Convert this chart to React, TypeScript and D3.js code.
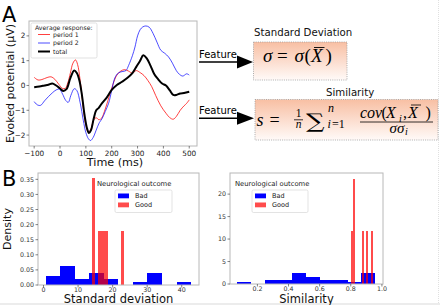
import React from "react";
import * as d3 from "d3";

// ---------- Panel A data ----------
const period1T = [-100, -85, -70, -50, -35, -20, -5, 10, 20, 30, 40, 50, 60, 68, 78, 90, 100, 110, 120, 130, 140, 150, 160, 175, 190, 205, 220, 235, 250, 265, 280, 295, 310, 325, 340, 355, 370, 390, 410, 425, 438, 450, 465, 480, 490, 500];
const period1V = [0.33, 0.22, 0.24, 0.32, 0.35, 0.25, 0.05, -0.12, -0.12, 0.1, 0.5, 0.9, 1.03, 0.85, 0.2, -0.9, -1.6, -1.88, -1.75, -1.4, -1.3, -1.38, -1.33, -0.95, -0.45, 0.05, 0.42, 0.58, 0.64, 0.58, 0.5, 0.6, 0.52, 0.4, 0.2, -0.05, -0.4, -0.82, -1.12, -1.3, -1.36, -1.25, -1.0, -0.82, -0.72, -0.58];

const period2T = [-100, -88, -75, -60, -45, -30, -15, -2, 10, 22, 32, 42, 55, 65, 78, 90, 100, 110, 118, 128, 140, 152, 162, 175, 188, 200, 212, 225, 240, 255, 265, 280, 290, 300, 310, 320, 332, 345, 360, 375, 390, 405, 420, 435, 450, 462, 475, 490, 500];
const period2V = [-0.65, -0.78, -0.8, -0.62, -0.45, -0.3, -0.18, -0.15, -0.35, -0.6, -0.68, -0.4, -0.13, -0.2, -0.7, -1.4, -1.9, -2.15, -2.22, -2.1, -1.8, -1.5, -1.35, -1.05, -0.72, -0.2, 0.3, 0.5, 0.56, 0.6, 0.8, 1.2, 1.55, 2.0, 2.25, 2.36, 2.4, 2.35, 2.1, 1.75, 1.42, 1.3, 1.15, 0.9, 0.6, 0.45, 0.38, 0.47, 0.42];

const totalT = [-100, -80, -60, -45, -30, -15, 0, 12, 25, 40, 55, 65, 75, 85, 95, 105, 112, 120, 130, 140, 150, 162, 180, 200, 220, 240, 260, 280, 295, 310, 322, 335, 350, 365, 380, 395, 410, 425, 438, 450, 465, 480, 500];
const totalV = [-0.07, -0.04, 0.0, 0.03, 0.08, 0.0, -0.12, -0.22, -0.15, 0.3, 0.6, 0.5, 0.2, -0.4, -1.2, -1.75, -1.92, -1.8, -1.35, -1.0, -0.9, -0.72, -0.5, -0.18, 0.02, 0.15, 0.3, 0.5, 0.75, 1.0, 1.22, 1.1, 0.8, 0.45, 0.25, 0.08, 0.0, -0.2, -0.38, -0.38, -0.32, -0.3, -0.25];

const timeTicks = [-100, 0, 100, 200, 300, 400, 500];
const potentialTicks = [-2, -1, 0, 1, 2];

// ---------- Panel B data (histogram counts) ----------
const sdBadStart = 0.6;
const sdBadWidth = 4.21;
const sdBadCounts = [3, 6, 2, 4, 2, 0, 1, 4, 0, 1];
const sdGoodStart = 13.9;
const sdGoodWidth = 0.94;
const sdGoodCounts = [2, 0, 1, 1, 1, 0, 0, 0, 0, 1];
const sdTicksX = [0, 10, 20, 30, 40];
const sdTicksY = [0, 0.05, 0.1, 0.15, 0.2, 0.25, 0.3, 0.35];

const simBadStart = 0.069;
const simBadWidth = 0.0888;
const simBadCounts = [1, 0, 2, 2, 5, 3, 2, 2, 1, 5];
const simGoodStart = 0.8;
const simGoodWidth = 0.0142;
const simGoodCounts = [1, 2, 0, 0, 0, 1, 0, 1, 0, 1];
const simTicksX = [0.2, 0.4, 0.6, 0.8, 1.0];
const simTicksY = [0, 5, 10, 15, 20];

const SANS = "DejaVu Sans, sans-serif";
const SERIF = "Liberation Serif, DejaVu Serif, serif";
const FRAME = "#b8b8b8";
const TICKC = "#333";

function bins(start: number, width: number, counts: number[]) {
  const n = d3.sum(counts);
  return counts.map((c, i) => ({ x0: start + i * width, x1: start + (i + 1) * width, d: c / (n * width) }));
}

function Hist(props: {
  x0: number; x1: number; y0: number; y1: number;
  xDom: [number, number]; yDom: [number, number];
  bad: { x0: number; x1: number; d: number }[];
  good: { x0: number; x1: number; d: number }[];
  xTicks: number[]; yTicks: number[];
  xFmt: (v: number) => string; yFmt: (v: number) => string;
  xLabel: string; titleX: number; boxX: number; boxW: number;
}) {
  const { x0, x1, y0, y1 } = props;
  const xs = d3.scaleLinear().domain(props.xDom).range([x0, x1]);
  const ys = d3.scaleLinear().domain(props.yDom).range([y1, y0]);
  return (
    <g>
      <g shapeRendering="crispEdges">
        {props.bad.filter(b => b.d > 0).map((b, i) => (
          <rect key={"b" + i} x={xs(b.x0)} y={ys(b.d)} width={xs(b.x1) - xs(b.x0)} height={ys(0) - ys(b.d)} fill="#0000ff" />
        ))}
      </g>
      <g opacity={0.7} shapeRendering="crispEdges">
        {props.good.filter(b => b.d > 0).map((b, i) => (
          <rect key={"g" + i} x={xs(b.x0)} y={ys(b.d)} width={xs(b.x1) - xs(b.x0)} height={ys(0) - ys(b.d)} fill="#ff0000" />
        ))}
      </g>
      <rect x={x0} y={y0} width={x1 - x0} height={y1 - y0} fill="none" stroke={FRAME} strokeWidth={1} />
      {props.xTicks.map(t => (
        <g key={"x" + t}>
          <line x1={xs(t)} x2={xs(t)} y1={y1} y2={y1 + 2.5} stroke={TICKC} strokeWidth={0.6} />
          <text x={xs(t)} y={y1 + 7} fontSize={6.3} fontFamily={SANS} fill="#333" textAnchor="middle">{props.xFmt(t)}</text>
        </g>
      ))}
      {props.yTicks.map(t => (
        <g key={"y" + t}>
          <line x1={x0 - 2.5} x2={x0} y1={ys(t)} y2={ys(t)} stroke={TICKC} strokeWidth={0.6} />
          <text x={x0 - 4} y={ys(t) + 2.2} fontSize={6.3} fontFamily={SANS} fill="#333" textAnchor="end">{props.yFmt(t)}</text>
        </g>
      ))}
      <text x={(x0 + x1) / 2} y={302.5} fontSize={11.5} fontFamily={SANS} fill="#111" textAnchor="middle">{props.xLabel}</text>
      <text x={props.titleX} y={y0 + 12.5} fontSize={6.8} fontFamily={SANS} fill="#222">Neurological outcome</text>
      <rect x={props.boxX} y={y0 + 17} width={props.boxW} height={22.5} rx={1.5} fill="white" stroke="#d0d0d0" strokeWidth={0.6} />
      <rect x={props.boxX + 3} y={y0 + 20.5} width={11} height={4.8} fill="#0000ff" />
      <rect x={props.boxX + 3} y={y0 + 29.5} width={11} height={4.8} fill="#ff0000" fillOpacity={0.7} />
      <text x={props.boxX + 20} y={y0 + 25.2} fontSize={6.5} fontFamily={SANS} fill="#222">Bad</text>
      <text x={props.boxX + 20} y={y0 + 34.2} fontSize={6.5} fontFamily={SANS} fill="#222">Good</text>
    </g>
  );
}

export default function App() {
  // Panel A
  const ax0 = 29, ax1 = 197, ay0 = 21, ay1 = 146;
  const xA = d3.scaleLinear().domain([-120, 530]).range([ax0, ax1]);
  const yA = d3.scaleLinear().domain([-2.44, 2.6]).range([ay1, ay0]);
  const line = d3.line<[number, number]>().x(d => xA(d[0])).y(d => yA(d[1])).curve(d3.curveCatmullRom.alpha(0.5));
  const zip = (t: number[], v: number[]) => t.map((tt, i) => [tt, v[i]] as [number, number]);

  const fmtMinus = (v: number) => (v < 0 ? "\u2212" + Math.abs(v) : String(v));
  const M = (p: any) => <text fontFamily={SERIF} fill="#000" {...p} />;

  return (
    <svg width={440} height={305} style={{ position: "absolute", left: 0, top: 0, background: "white" }}>
      <rect x={0} y={0} width={440} height={305} fill="white" />
      {/* faint outer edges */}
      <line x1={438.5} x2={438.5} y1={0} y2={305} stroke="#d8d8d8" strokeWidth={0.8} strokeDasharray="1,1" />
      <line x1={0} x2={440} y1={304} y2={304} stroke="#ececec" strokeWidth={2} />

      {/* Panel letters */}
      <text x={2} y={22} fontSize={21} fontFamily={SANS} fill="#000">A</text>
      <text x={2} y={186} fontSize={21} fontFamily={SANS} fill="#000">B</text>

      {/* Panel A lines */}
      <path d={line(zip(period1T, period1V)) || ""} fill="none" stroke="#ff0000" strokeOpacity={0.75} strokeWidth={1} />
      <path d={line(zip(period2T, period2V)) || ""} fill="none" stroke="#0000ff" strokeOpacity={0.7} strokeWidth={1} />
      <path d={line(zip(totalT, totalV)) || ""} fill="none" stroke="#000" strokeWidth={2} />
      <rect x={ax0} y={ay0} width={ax1 - ax0} height={ay1 - ay0} fill="none" stroke={FRAME} strokeWidth={1} />
      {timeTicks.map(t => (
        <g key={"tx" + t}>
          <line x1={xA(t)} x2={xA(t)} y1={ay1} y2={ay1 + 2.5} stroke={TICKC} strokeWidth={0.6} />
          <text x={xA(t)} y={ay1 + 9.5} fontSize={7.3} fontFamily={SANS} fill="#222" textAnchor="middle">{fmtMinus(t)}</text>
        </g>
      ))}
      {potentialTicks.map(t => (
        <g key={"ty" + t}>
          <line x1={ax0 - 2.5} x2={ax0} y1={yA(t)} y2={yA(t)} stroke={TICKC} strokeWidth={0.6} />
          <text x={ax0 - 3.5} y={yA(t) + 2.6} fontSize={7.3} fontFamily={SANS} fill="#222" textAnchor="end">{fmtMinus(t)}</text>
        </g>
      ))}
      <text x={115} y={166} fontSize={11.2} fontFamily={SANS} fill="#111" textAnchor="middle">Time (ms)</text>
      <text transform={`translate(13.5,${(ay0 + ay1) / 2}) rotate(-90)`} fontSize={11} fontFamily={SANS} fill="#111" textAnchor="middle">Evoked potential (μV)</text>

      {/* Panel A legend */}
      <rect x={31} y={23} width={66} height={35} rx={1.5} fill="white" fillOpacity={0.9} stroke="#cfcfcf" strokeWidth={0.6} />
      <text x={35} y={29.5} fontSize={6.2} fontFamily={SANS} fill="#222">Average response:</text>
      <line x1={38} x2={50} y1={34.5} y2={34.5} stroke="#ff0000" strokeOpacity={0.75} strokeWidth={1} />
      <line x1={38} x2={50} y1={43} y2={43} stroke="#0000ff" strokeOpacity={0.7} strokeWidth={1} />
      <line x1={38} x2={50} y1={51.5} y2={51.5} stroke="#000" strokeWidth={2} />
      <text x={53} y={36.7} fontSize={6.2} fontFamily={SANS} fill="#222">period 1</text>
      <text x={53} y={45.2} fontSize={6.2} fontFamily={SANS} fill="#222">period 2</text>
      <text x={53} y={53.7} fontSize={6.2} fontFamily={SANS} fill="#222">total</text>

      {/* Feature arrows */}
      <defs>
        <linearGradient id="boxgrad" x1="0" y1="0" x2="0" y2="1">
          <stop offset="0" stopColor="#f8bfa3" />
          <stop offset="1" stopColor="#fffaf8" />
        </linearGradient>
      </defs>
      <text x={199} y={57.5} fontSize={10} fontFamily={SANS} fill="#000">Feature</text>
      <line x1={199} x2={240} y1={62} y2={62} stroke="#000" strokeWidth={1.6} />
      <path d="M237,55.5 L253,62 L237,68.5 Z" fill="#000" />
      <text x={199} y={113.5} fontSize={10} fontFamily={SANS} fill="#000">Feature</text>
      <line x1={199} x2={240} y1={118.3} y2={118.3} stroke="#000" strokeWidth={1.6} />
      <path d="M237,111.8 L254,118.3 L237,124.8 Z" fill="#000" />

      {/* Standard deviation box */}
      <text x={254} y={36} fontSize={10.2} fontFamily={SANS} fill="#111">Standard Deviation</text>
      <rect x={253.5} y={42} width={93.5} height={38} fill="url(#boxgrad)" stroke="#999" strokeWidth={0.8} strokeDasharray="1,1.2" />
      <M x={263} y={62} fontSize={19} fontStyle="italic">σ</M>
      <M x={277} y={62} fontSize={19}>=</M>
      <M x={294.5} y={62} fontSize={19} fontStyle="italic">σ</M>
      <M x={304.5} y={62} fontSize={19}>(</M>
      <M x={311} y={62} fontSize={19} fontStyle="italic">X</M>
      <line x1={314} x2={324.5} y1={47.5} y2={47.5} stroke="#000" strokeWidth={0.9} />
      <M x={325.5} y={62} fontSize={19}>)</M>

      {/* Similarity box */}
      <text x={326} y={96} fontSize={10.2} fontFamily={SANS} fill="#111">Similarity</text>
      <rect x={255} y={99.5} width={183} height={40.5} fill="url(#boxgrad)" stroke="#999" strokeWidth={0.8} strokeDasharray="1,1.2" />
      <M x={256.5} y={126} fontSize={18} fontStyle="italic">s</M>
      <M x={269.5} y={126} fontSize={18}>=</M>
      <M x={298.5} y={117} fontSize={11.5} textAnchor="middle">1</M>
      <line x1={294} x2={303} y1={119.8} y2={119.8} stroke="#000" strokeWidth={0.8} />
      <M x={298.5} y={128} fontSize={11.5} fontStyle="italic" textAnchor="middle">n</M>
      <text transform="translate(306,127.5) scale(1.3,1)" fontSize={20} fontFamily="DejaVu Serif, serif" fill="#000">∑</text>
      <M x={328} y={112} fontSize={12} fontStyle="italic">n</M>
      <M x={327.5} y={128} fontSize={12} fontStyle="italic">i</M>
      <M x={332} y={128} fontSize={12}>=1</M>

      <M x={360} y={118} fontSize={16} fontStyle="italic">cov</M>
      <M x={381.5} y={118} fontSize={16}>(</M>
      <M x={386} y={118} fontSize={16} fontStyle="italic">X</M>
      <M x={399} y={121.5} fontSize={10} fontStyle="italic">i</M>
      <M x={403} y={118} fontSize={16}>,</M>
      <M x={408} y={118} fontSize={16} fontStyle="italic">X</M>
      <line x1={411} x2={421} y1={105} y2={105} stroke="#000" strokeWidth={0.8} />
      <M x={425.5} y={118} fontSize={16}>)</M>
      <line x1={360} x2={433} y1={122} y2={122} stroke="#000" strokeWidth={0.8} />
      <M x={389.5} y={132.5} fontSize={15} fontStyle="italic">σσ</M>
      <M x={405} y={135} fontSize={10} fontStyle="italic">i</M>

      {/* Panel B histograms */}
      <text transform={`translate(11,229) rotate(-90)`} fontSize={11} fontFamily={SANS} fill="#111" textAnchor="middle">Density</text>
      <Hist x0={38} x1={199} y0={173} y1={285} xDom={[-1.6, 45.0]} yDom={[0, 0.371]}
        bad={bins(sdBadStart, sdBadWidth, sdBadCounts)} good={bins(sdGoodStart, sdGoodWidth, sdGoodCounts)}
        xTicks={sdTicksX} yTicks={sdTicksY} xFmt={v => String(v)} yFmt={v => v.toFixed(2)}
        xLabel="Standard deviation" titleX={97} boxX={115} boxW={57} />
      <Hist x0={230} x1={383} y0={173} y1={284} xDom={[0.024, 1.007]} yDom={[0, 24.7]}
        bad={bins(simBadStart, simBadWidth, simBadCounts)} good={bins(simGoodStart, simGoodWidth, simGoodCounts)}
        xTicks={simTicksX} yTicks={simTicksY} xFmt={v => v.toFixed(1)} yFmt={v => String(v)}
        xLabel="Similarity" titleX={235} boxX={252} boxW={56} />
    </svg>
  );
}
